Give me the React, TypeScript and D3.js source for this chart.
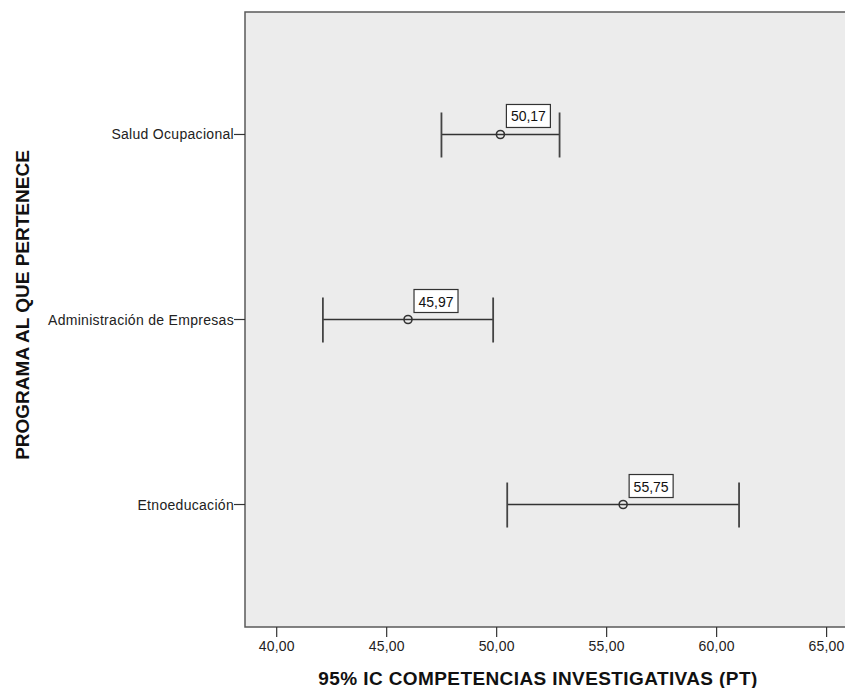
import React, { useEffect, useRef } from 'react';
import * as d3 from 'd3';

const programs = ['Salud Ocupacional', 'Administración de Empresas', 'Etnoeducación'];
const means = [50.17, 45.97, 55.75];
const lowerCI = [47.49, 42.10, 50.48];
const upperCI = [52.86, 49.84, 61.02];
const xTicks = [40, 45, 50, 55, 60, 65];

const W = 845;
const H = 688;

const App: React.FC = () => {
  const ref = useRef<SVGSVGElement>(null);

  useEffect(() => {
    const svg = d3.select(ref.current);
    svg.selectAll('*').remove();

    const left = 245;
    const right = 870;
    const top = 12;
    const bottom = 627;

    const x = d3.scaleLinear().domain([40, 65]).range([276.7, 826.6]);
    const y = d3.scalePoint<string>().domain(programs).range([top, bottom]).padding(0.662);

    const font = 'Arial, "Liberation Sans", sans-serif';
    const fmt = (v: number) => d3.format('.2f')(v).replace('.', ',');

    // plot frame
    svg.append('rect')
      .attr('x', left).attr('y', top)
      .attr('width', right - left).attr('height', bottom - top)
      .attr('fill', '#ececec')
      .attr('stroke', '#5a5a5a')
      .attr('stroke-width', 1.5);

    // x axis ticks + labels
    const xg = svg.append('g');
    xTicks.forEach((t) => {
      xg.append('line')
        .attr('x1', x(t)).attr('x2', x(t))
        .attr('y1', bottom).attr('y2', bottom + 10)
        .attr('stroke', '#333').attr('stroke-width', 1.2);
      xg.append('text')
        .attr('x', x(t)).attr('y', bottom + 24)
        .attr('text-anchor', 'middle')
        .attr('font-family', font).attr('font-size', 14)
        .attr('letter-spacing', 0.2)
        .attr('fill', '#222')
        .text(fmt(t));
    });

    // y axis ticks + labels
    const yg = svg.append('g');
    programs.forEach((p) => {
      const yy = y(p) as number;
      yg.append('line')
        .attr('x1', left - 11).attr('x2', left)
        .attr('y1', yy).attr('y2', yy)
        .attr('stroke', '#333').attr('stroke-width', 1.2);
      yg.append('text')
        .attr('x', left - 11).attr('y', yy + 5)
        .attr('text-anchor', 'end')
        .attr('font-family', font).attr('font-size', 14)
        .attr('letter-spacing', 0.3)
        .attr('fill', '#222')
        .text(p);
    });

    // axis titles
    svg.append('text')
      .attr('x', 538).attr('y', 685)
      .attr('text-anchor', 'middle')
      .attr('font-family', font).attr('font-size', 19).attr('font-weight', 'bold')
      .attr('letter-spacing', 0.4)
      .attr('fill', '#111')
      .text('95% IC COMPETENCIAS INVESTIGATIVAS (PT)');

    svg.append('text')
      .attr('transform', 'translate(29, 305) rotate(-90)')
      .attr('text-anchor', 'middle')
      .attr('font-family', font).attr('font-size', 19).attr('font-weight', 'bold')
      .attr('fill', '#111')
      .text('PROGRAMA AL QUE PERTENECE');

    // error bars
    const bars = svg.append('g');
    programs.forEach((p, i) => {
      const yy = y(p) as number;
      const x0 = x(lowerCI[i]);
      const x1 = x(upperCI[i]);
      const cx = x(means[i]);
      bars.append('line')
        .attr('x1', x0).attr('x2', x1).attr('y1', yy).attr('y2', yy)
        .attr('stroke', '#333').attr('stroke-width', 1.5);
      [x0, x1].forEach((cxv) => {
        bars.append('line')
          .attr('x1', cxv).attr('x2', cxv).attr('y1', yy - 22).attr('y2', yy + 23)
          .attr('stroke', '#444').attr('stroke-width', 1.8);
      });
      bars.append('circle')
        .attr('cx', cx).attr('cy', yy).attr('r', 4)
        .attr('fill', 'none').attr('stroke', '#333').attr('stroke-width', 1.6);

      // value label
      bars.append('rect')
        .attr('x', cx + 6).attr('y', yy - 30)
        .attr('width', 44).attr('height', 23)
        .attr('fill', '#fff').attr('stroke', '#333').attr('stroke-width', 1.2);
      bars.append('text')
        .attr('x', cx + 28).attr('y', yy - 13)
        .attr('text-anchor', 'middle')
        .attr('font-family', font).attr('font-size', 14)
        .attr('fill', '#111')
        .text(fmt(means[i]));
    });
  }, []);

  return (
    <svg
      ref={ref}
      width={W}
      height={H}
      style={{ position: 'absolute', left: 0, top: 0, background: '#fff' }}
    />
  );
};

export default App;
